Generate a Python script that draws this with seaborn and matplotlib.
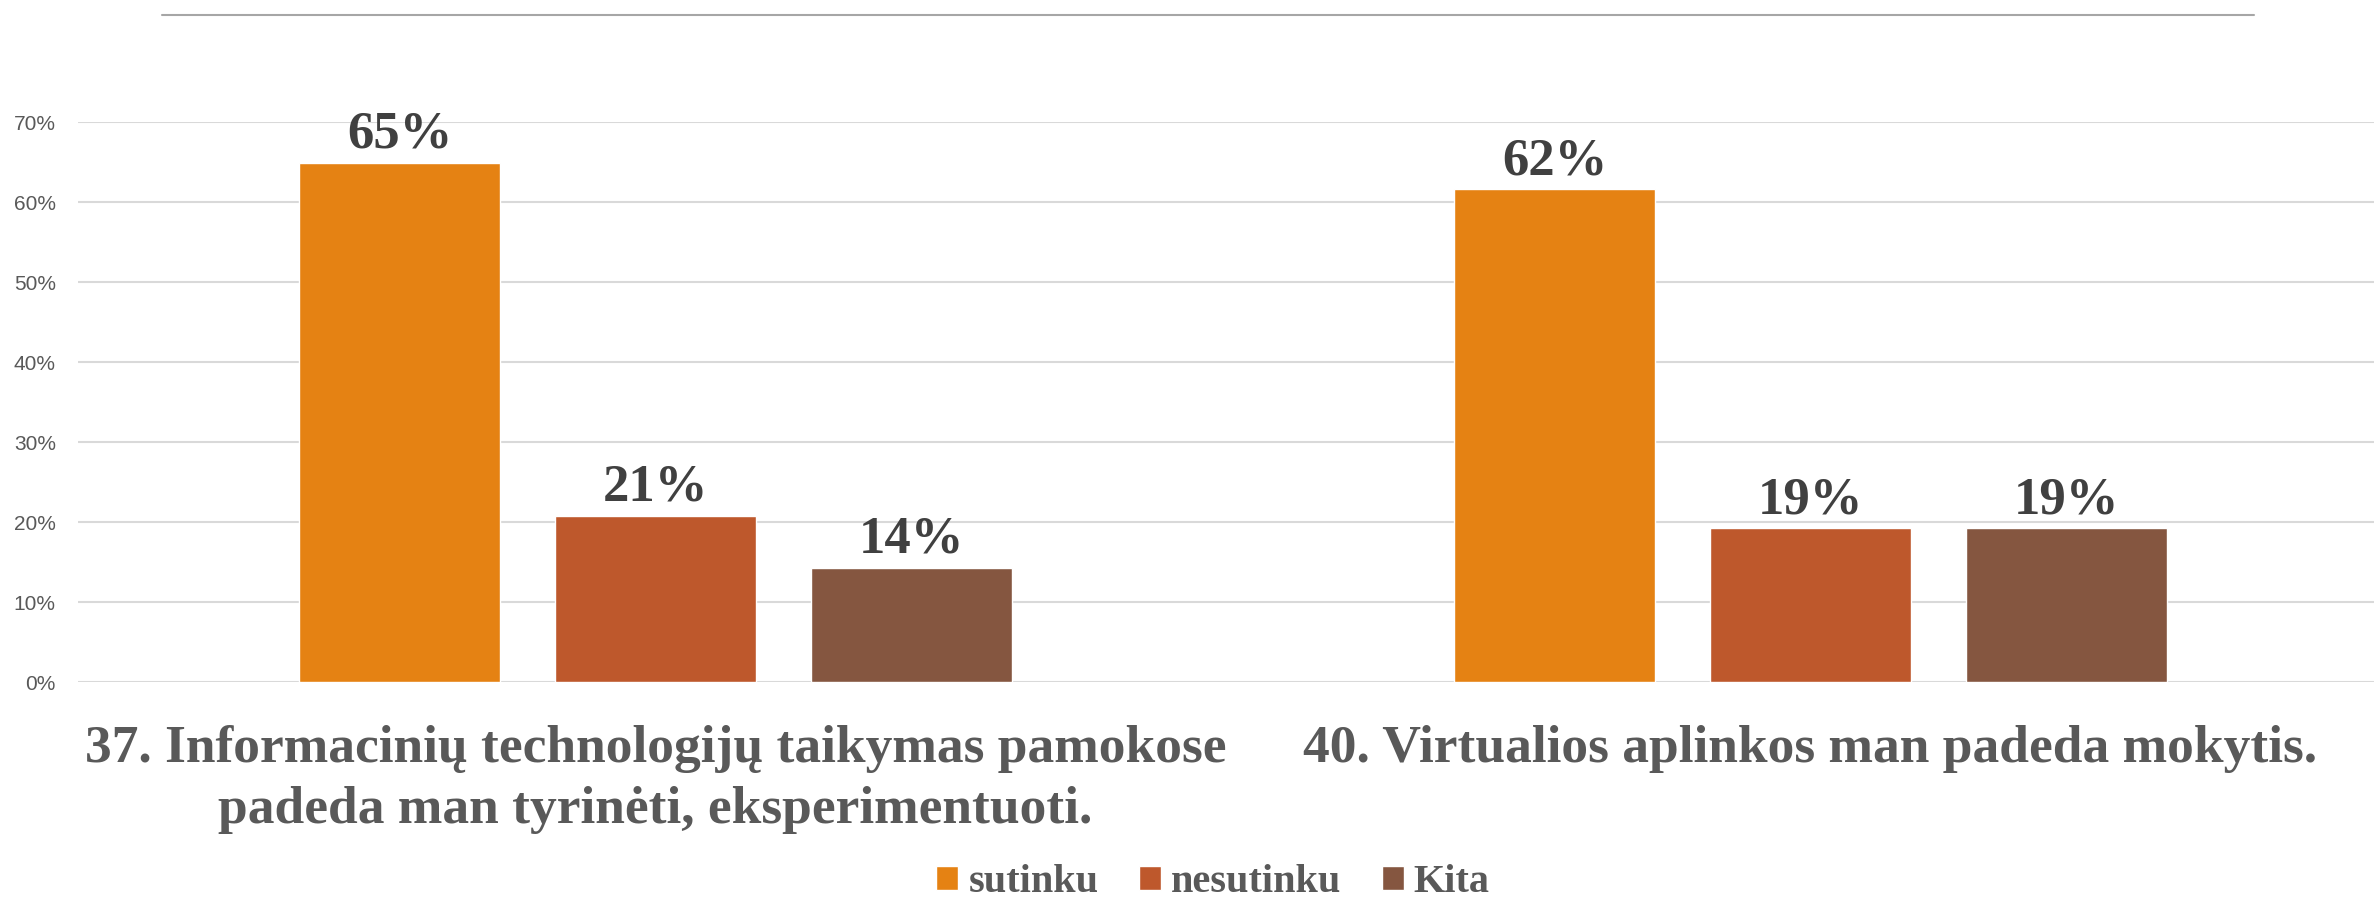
import pandas as pd
import matplotlib.pyplot as plt
from matplotlib.lines import Line2D
import seaborn as sns

sns.set_theme(style='whitegrid')
plt.rcParams['font.family'] = ['Liberation Serif', 'DejaVu Serif']

# duomenys
klausimai = ['37. Informacinių technologijų taikymas pamokose\npadeda man tyrinėti, eksperimentuoti.',
             '40. Virtualios aplinkos man padeda mokytis.']
atsakymai = ['sutinku', 'nesutinku', 'Kita']
sutinku = [0.649, 0.616]
nesutinku = [0.208, 0.192]
kita = [0.143, 0.192]
spalvos = ['#E58213', '#BE582C', '#855640']
y_ticks = [0, 0.1, 0.2, 0.3, 0.4, 0.5, 0.6, 0.7]

rows = []
for i, k in enumerate(klausimai):
    for a, vals in zip(atsakymai, [sutinku, nesutinku, kita]):
        rows.append({'klausimas': k, 'atsakymas': a, 'dalis': vals[i]})
df = pd.DataFrame(rows)

fig = plt.figure(figsize=(23.74, 8.99), dpi=100)
ax = fig.add_axes([78/2374, 1-682/899, (2388-78)/2374, 560/899])

sns.barplot(data=df, x='klausimas', y='dalis', hue='atsakymas', hue_order=atsakymai,
            palette=spalvos, width=0.665, gap=0.215, saturation=1, ax=ax)

for c in ax.containers:
    ax.bar_label(c, fmt=lambda v: f'{v*100:.0f}%', padding=3, fontsize=38,
                 fontweight='bold', color='#404040')

ax.set_ylim(0, 0.7)
ax.set_yticks(y_ticks)
ax.set_yticklabels([f'{int(round(t*100))}%' for t in y_ticks],
                   family='Liberation Sans', fontsize=15, color='#595959')
ax.set_xlabel('')
ax.set_ylabel('')
ax.tick_params(axis='y', length=0, pad=16)
ax.tick_params(axis='x', length=0, pad=31)
for t in ax.get_xticklabels():
    t.set_fontsize(38.5)
    t.set_fontweight('bold')
    t.set_color('#595959')
    t.set_linespacing(1.36)
ax.grid(axis='y', color='#d9d9d9', lw=1.5)
ax.grid(axis='x', visible=False)
for s in ax.spines.values():
    s.set_visible(False)
ax.set_axisbelow(True)

h, l = ax.get_legend_handles_labels()
ax.get_legend().remove()
fig.legend(h, l, loc='center', bbox_to_anchor=(1213/2374, 1-883/899), ncol=3,
           frameon=False, prop={'size': 29, 'weight': 'bold'}, labelcolor='#595959',
           handlelength=0.55, handleheight=0.55, handletextpad=0.25, columnspacing=1.0)

fig.add_artist(Line2D([162/2374, 2254/2374], [1-15/899, 1-15/899],
                      transform=fig.transFigure, color='#a6a6a6', lw=1.5))

plt.savefig('out.png', dpi=100)
